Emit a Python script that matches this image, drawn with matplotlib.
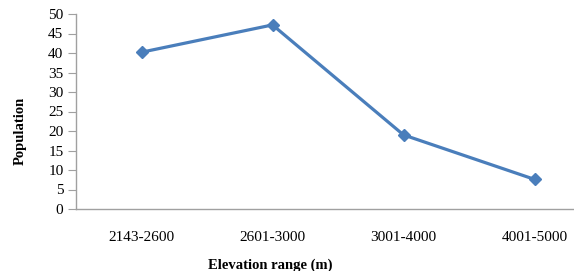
import matplotlib.pyplot as plt

categories = ["2143-2600", "2601-3000", "3001-4000", "4001-5000"]
population = [40.2, 47.2, 19.0, 7.6]
yticks = [0, 5, 10, 15, 20, 25, 30, 35, 40, 45, 50]

plt.rcParams['font.family'] = ['Liberation Serif', 'DejaVu Serif']

fig = plt.figure(figsize=(5.74, 2.71), dpi=100)
# the plot area runs past the right edge of the image, as in the original
ax = fig.add_axes([76/574, 1 - 209/271, 524/574, 195/271])

x = list(range(len(categories)))
ax.plot(x, population, color='#4A7EBB', lw=2.3, marker='D', ms=6,
        clip_on=False, zorder=3)

ax.set_xlim(-0.5, 3.5)
ax.set_ylim(0, 50)
ax.set_yticks(yticks)
ax.set_xticks(x)
ax.set_xticklabels(categories)
ax.tick_params(axis='y', length=6, color='#A0A0A0', labelsize=11, pad=3)
ax.tick_params(axis='x', length=0, labelsize=11, pad=16)

for s in ['top', 'right']:
    ax.spines[s].set_visible(False)
for s in ['left', 'bottom']:
    ax.spines[s].set_color('#A0A0A0')
    ax.spines[s].set_linewidth(1)

ax.set_ylabel('Population', fontsize=10.5, fontweight='bold')
ax.yaxis.set_label_coords((20 - 76) / 524, (209 - 131) / 195)
ax.yaxis.label.set_va('center')
ax.set_xlabel('Elevation range (m)', fontsize=10.5, fontweight='bold')
ax.xaxis.set_label_coords((270 - 76) / 524, -(265 - 209) / 195)
ax.xaxis.label.set_va('center')

fig.savefig('out.png', dpi=100)
